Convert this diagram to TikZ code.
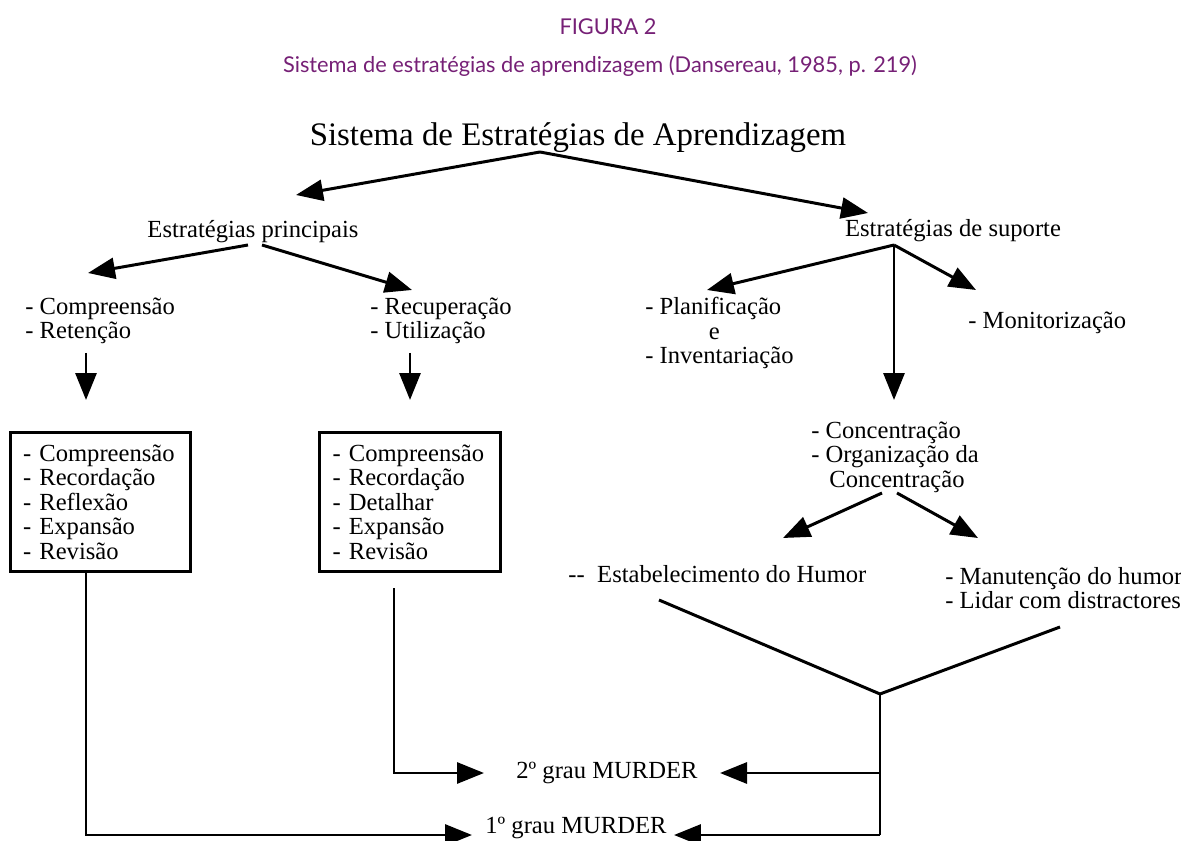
\documentclass[tikz,border=0pt]{standalone}
\usepackage{fontspec}
\setmainfont{Liberation Serif}
\newfontfamily\capfont{Lato}
\usepackage{xcolor}
\usepackage{tikz}
\usetikzlibrary{arrows.meta,positioning,calc}
\definecolor{capviolet}{RGB}{118,32,118}

\begin{document}
\begin{tikzpicture}[
    x=0.02cm, y=-0.02cm,
    txt/.style={inner sep=0pt, align=left, font=\fontsize{14}{13.9}\selectfont},
    head/.style={inner sep=0pt, font=\fontsize{18.7}{20}\selectfont},
    caption/.style={inner sep=0pt, text=capviolet, font=\capfont\fontsize{12.4}{12.4}\selectfont},
    listbox/.style={rectangle, draw, line width=1.7pt, txt, text width=3.1cm, inner xsep=0.26cm, minimum height=2.8cm},
    conn/.style={line width=1.7pt},
    arr/.style={conn, -{Triangle[length=5.4mm,width=4.2mm]}},
]
    \useasboundingbox (0,0) rectangle (1181,841);

    % Caption
    \node[caption] (figcap) at (608,27) {FIGURA 2};
    \node[caption] (subcap) at (600,66) {Sistema de estratégias de aprendizagem (Dansereau, 1985, p. 219)};

    % Top level
    \node[head] (mainsys) at (578,138) {Sistema de Estratégias de Aprendizagem};
    \node[txt] (principais) at (253,232) {Estratégias principais};
    \node[txt] (suporte) at (953,231) {Estratégias de suporte};

    \coordinate (split) at (540,152);
    \coordinate (toprinc) at (296,195);
    \coordinate (tosup) at (868,213);
    \draw[arr] (split) -- (toprinc);
    \draw[arr] (split) -- (tosup);

    % Main strategies
    \node[txt, anchor=west] (comprret) at (25,321) {- Compreensão\\- Retenção};
    \node[txt, anchor=west] (recutil) at (370,321) {- Recuperação\\- Utilização};
    \node[listbox] (boxA) at (100.5,502) {- Compreensão\\- Recordação\\- Reflexão\\- Expansão\\- Revisão};
    \node[listbox] (boxB) at (410,502) {- Compreensão\\- Recordação\\- Detalhar\\- Expansão\\- Revisão};

    \coordinate (princL) at (248,245);
    \coordinate (princR) at (262,245);
    \coordinate (tocompr) at (88,273);
    \coordinate (torecup) at (412,290);
    \draw[arr] (princL) -- (tocompr);
    \draw[arr] (princR) -- (torecup);

    \coordinate (comprdown) at (86,353);
    \coordinate (recupdown) at (410,353);
    \draw[arr] (comprdown) -- (86,400) coordinate (toboxA);
    \draw[arr] (recupdown) -- (410,400) coordinate (toboxB);

    % Support strategies
    \node[txt, anchor=west] (planinv) at (645,333) {- Planificação\\\hspace*{1.27cm}e\\- Inventariação};
    \node[txt, anchor=west] (monit) at (968,323) {- Monitorização};
    \node[txt, anchor=west] (concorg) at (811,457) {- Concentração\\- Organização da\\\hspace*{0.36cm}Concentração};
    \node[txt, anchor=west] (humor) at (568,574) {-{}-\hspace{0.25cm}Estabelecimento do Humor};
    \node[txt, anchor=west] (distract) at (945,588) {- Manutenção do humor\\- Lidar com distractores};

    \coordinate (supsplit) at (894,245);
    \draw[arr] (supsplit) -- (707,290) coordinate (toplan);
    \draw[arr] (supsplit) -- (894,400) coordinate (toconc);
    \draw[arr] (supsplit) -- (976,290) coordinate (tomonit);

    \coordinate (concL) at (882,493);
    \coordinate (concR) at (897,493);
    \draw[arr] (concL) -- (783,538) coordinate (tohumor);
    \draw[arr] (concR) -- (978,538) coordinate (todistr);

    % MURDER levels
    \node[txt] (grau2) at (607,773) {2º grau MURDER};
    \node[txt] (grau1) at (576,828) {1º grau MURDER};

    \coordinate (humorend) at (659,600);
    \coordinate (distrend) at (1060,627);
    \coordinate (join) at (880,694);
    \draw[conn] (humorend) -- (join) -- (distrend);
    \draw[conn] (join) -- (880,835) coordinate (joinend);

    \draw[arr] (880,773) -- (720,773);
    \draw[arr] (joinend) -- (674,835);

    \coordinate (boxAout) at (86,572);
    \coordinate (boxBout) at (394,588);
    \draw[arr] (boxAout) -- (86,835) -- (472,835);
    \draw[arr] (boxBout) -- (394,773) -- (484,773);

\end{tikzpicture}
\end{document}
